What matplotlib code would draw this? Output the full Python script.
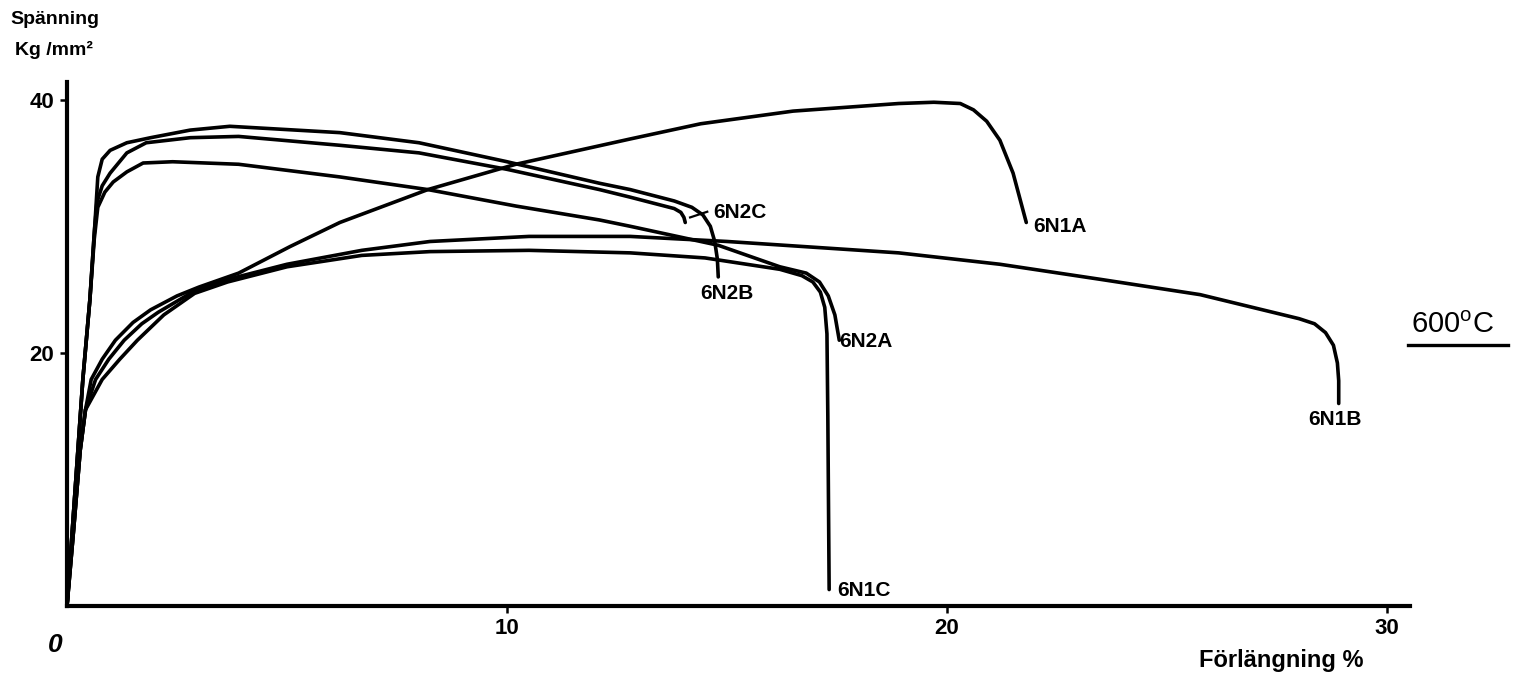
import numpy as np
import matplotlib
matplotlib.use("Agg")
import matplotlib.pyplot as plt

plt.rcParams["font.family"] = ["Liberation Sans", "DejaVu Sans"]
plt.rcParams["mathtext.fontset"] = "custom"
plt.rcParams["mathtext.rm"] = "Liberation Sans"
plt.rcParams["mathtext.default"] = "regular"

# elongation (%) and stress (kg/mm2)
n1a_x = [0, 0.15, 0.3, 0.42, 0.55, 0.8, 1.1, 1.5, 1.9, 2.5, 3.0, 3.9, 5.07, 6.2, 8.2,
         10.2, 12.8, 14.4, 16.5, 18.9, 19.7, 20.3, 20.6, 20.9, 21.2, 21.5, 21.8]
n1a_y = [0, 6, 12.3, 15.5, 17.9, 19.5, 21.0, 22.4, 23.4, 24.5, 25.2, 26.3, 28.4, 30.3, 32.9,
         34.9, 36.9, 38.1, 39.1, 39.7, 39.8, 39.7, 39.2, 38.3, 36.8, 34.2, 30.3]

n1b_x = [0, 0.15, 0.3, 0.42, 0.65, 0.95, 1.3, 1.7, 2.07, 2.9, 3.65, 5.0, 6.7, 8.25, 10.5,
         12.8, 15.0, 18.9, 21.2, 23.5, 25.75, 28.0, 28.35, 28.6, 28.78, 28.87, 28.9, 28.9]
n1b_y = [0, 6, 12.3, 15.5, 17.9, 19.5, 21.0, 22.3, 23.2, 24.9, 25.8, 27.0, 28.1, 28.8, 29.2,
         29.2, 28.8, 27.9, 27.0, 25.8, 24.6, 22.7, 22.3, 21.6, 20.6, 19.2, 17.8, 16.0]

n1c_x = [0, 0.15, 0.3, 0.42, 0.8, 1.2, 1.6, 2.2, 2.9, 3.65, 5.0, 6.7, 8.25, 10.5, 12.8,
         14.5, 16.2, 16.7, 16.95, 17.12, 17.22, 17.27, 17.29, 17.32]
n1c_y = [0, 6, 12.3, 15.5, 17.9, 19.5, 21.0, 23.0, 24.7, 25.6, 26.8, 27.7, 28.0, 28.1, 27.9,
         27.5, 26.6, 26.1, 25.6, 24.8, 23.6, 21.5, 15.0, 1.3]

n2a_x = [0, 0.36, 0.52, 0.62, 0.7, 0.86, 1.05, 1.36, 1.73, 2.4, 3.9, 6.2, 8.2, 10.2, 12.1,
         12.8, 14.8, 16.2, 16.8, 17.1, 17.3, 17.45, 17.55]
n2a_y = [0, 17.9, 24.2, 29.0, 31.5, 32.7, 33.5, 34.3, 35.0, 35.1, 34.9, 33.9, 32.9, 31.6, 30.5,
         30.0, 28.5, 26.8, 26.3, 25.6, 24.5, 23.0, 21.0]

n2b_x = [0, 0.36, 0.52, 0.64, 0.7, 0.8, 0.98, 1.36, 1.9, 2.8, 3.7, 6.2, 8.0, 10.0, 12.1,
         12.8, 13.8, 14.2, 14.45, 14.62, 14.72, 14.78, 14.8]
n2b_y = [0, 17.9, 24.2, 30.5, 33.9, 35.3, 36.0, 36.6, 37.0, 37.6, 37.9, 37.4, 36.6, 35.1, 33.4,
         32.9, 32.0, 31.5, 30.9, 30.0, 28.8, 27.4, 26.0]

n2c_x = [0, 0.36, 0.52, 0.62, 0.68, 0.8, 0.98, 1.36, 1.8, 2.8, 3.9, 6.2, 8.0, 10.0, 12.1,
         12.8, 13.8, 13.95, 14.02, 14.05]
n2c_y = [0, 17.9, 24.2, 29.5, 31.9, 33.2, 34.2, 35.8, 36.6, 37.0, 37.1, 36.4, 35.8, 34.5, 32.9,
         32.3, 31.4, 31.1, 30.7, 30.3]

names = ["6N1A", "6N1B", "6N1C", "6N2A", "6N2B", "6N2C"]
xs = [n1a_x, n1b_x, n1c_x, n2a_x, n2b_x, n2c_x]
ys = [n1a_y, n1b_y, n1c_y, n2a_y, n2b_y, n2c_y]
label_pos = [(21.95, 30.0), (28.2, 14.7), (17.5, 1.2), (17.55, 20.9), (14.4, 24.7), (14.68, 31.1)]

fig = plt.figure(figsize=(15.25, 6.8), dpi=100)
ax = fig.add_axes([67 / 1525, 74 / 680, 1343 / 1525, 524 / 680])

for name, x, y, (lx, ly) in zip(names, xs, ys, label_pos):
    ax.plot(x, y, color="black", lw=2.6, solid_joinstyle="round", solid_capstyle="round")
    ax.text(lx, ly, name, fontsize=15, fontweight="bold", ha="left", va="center")

# small leader for 6N2C
ax.plot([14.16, 14.55], [30.7, 31.15], color="black", lw=1.6)

ax.set_xlim(0, 30.52)
ax.set_ylim(0, 41.4)
ax.spines["top"].set_visible(False)
ax.spines["right"].set_visible(False)
ax.spines["left"].set_linewidth(3.0)
ax.spines["bottom"].set_linewidth(3.0)
ax.set_xticks([10, 20, 30])
ax.set_xticklabels(["10", "20", "30"], fontsize=16, fontweight="bold")
ax.set_yticks([20, 40])
ax.set_yticklabels(["20", "40"], fontsize=16, fontweight="bold")
ax.tick_params(axis="both", length=5, width=1.8, pad=4)

ax.text(-0.27, -3.1, "0", fontsize=19, fontweight="bold", style="italic",
        ha="center", va="center", clip_on=False)
ax.text(27.6, -4.3, "Förlängning %", fontsize=17, fontweight="bold",
        ha="center", va="center", clip_on=False)

fig.text(10 / 1525, 1 - 20 / 680, "Spänning", fontsize=14, fontweight="bold", va="center")
fig.text(15 / 1525, 1 - 50 / 680, "Kg /mm²", fontsize=14, fontweight="bold", va="center")

ax.text(30.55, 22.2, "600$^{o}$C", fontsize=21, ha="left", va="center", clip_on=False)
ax.plot([30.48, 32.75], [20.6, 20.6], color="black", lw=2.4, clip_on=False)

fig.savefig("out.png", dpi=100)
